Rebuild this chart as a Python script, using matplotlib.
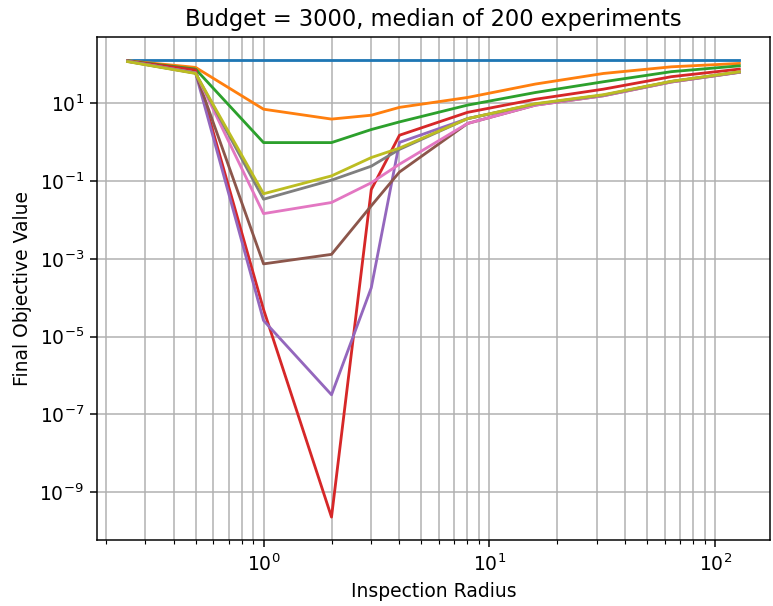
import matplotlib
matplotlib.use("Agg")
import matplotlib.pyplot as plt
from matplotlib.ticker import NullLocator

# inspection radii tested
radius = [0.25, 0.5, 1, 2, 3, 4, 8, 16, 32, 64, 128]

# median final objective per configuration (one row per curve)
run_0 = [130, 130, 130, 130, 130, 130, 130, 130, 130, 130, 130]
run_1 = [123, 83, 7.0, 3.9, 4.9, 7.8, 14.0, 31.0, 58.0, 86.0, 105.0]
run_2 = [122, 75, 0.97, 0.97, 2.1, 3.3, 8.9, 18.8, 35.5, 64.5, 91.0]
run_3 = [121, 71, 5e-5, 2.3e-10, 0.06, 1.5, 5.8, 12.6, 22.9, 47.9, 75.0]
run_4 = [120, 60, 2.6e-5, 3.2e-7, 1.8e-4, 0.98, 4.0, 9.3, 16.0, 36.0, 63.0]
run_5 = [120, 60, 7.4e-4, 1.3e-3, 0.023, 0.17, 3.0, 8.9, 15.5, 35.0, 62.0]
run_6 = [119, 60, 0.0145, 0.028, 0.09, 0.27, 3.0, 8.9, 15.5, 35.0, 62.0]
run_7 = [118, 59, 0.034, 0.105, 0.24, 0.65, 4.0, 9.5, 16.0, 36.0, 63.0]
run_8 = [117, 58, 0.047, 0.135, 0.40, 0.70, 4.0, 9.7, 16.5, 36.5, 64.0]

runs = [run_0, run_1, run_2, run_3, run_4, run_5, run_6, run_7, run_8]

fig = plt.figure(figsize=(773 / 135, 606 / 135), dpi=135)
ax = fig.add_axes([0.1255, 0.109, 0.8705, 0.83])

for vals in runs:
    ax.plot(radius, vals)

ax.set_xscale("log")
ax.set_yscale("log")
ax.set_yticks([1e-9, 1e-7, 1e-5, 1e-3, 1e-1, 1e1])
ax.yaxis.set_minor_locator(NullLocator())
ax.grid(True, which="both")

ax.set_title("Budget = 3000, median of 200 experiments")
ax.set_xlabel("Inspection Radius")
ax.set_ylabel("Final Objective Value")

fig.savefig("out.png", dpi=135)
